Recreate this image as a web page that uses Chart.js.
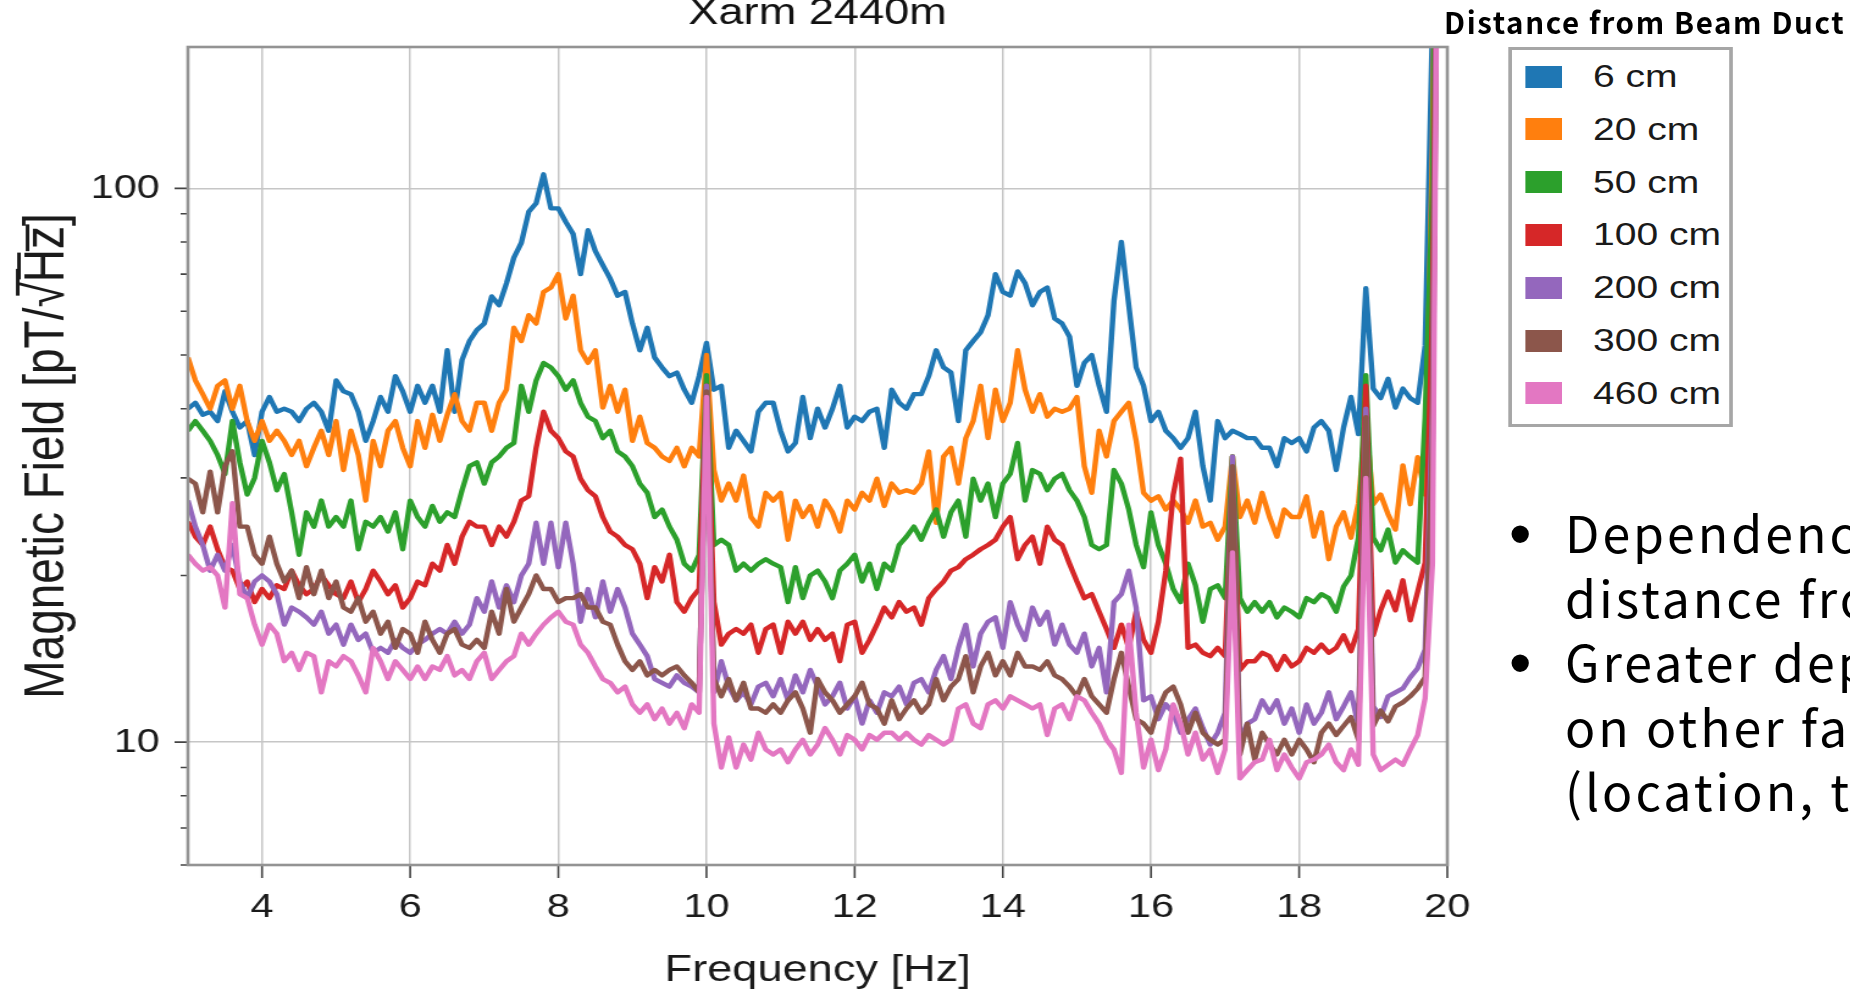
<!DOCTYPE html>
<html>
<head>
<meta charset="utf-8">
<title>Xarm 2440m</title>
<script src="https://cdn.jsdelivr.net/npm/chart.js@4.4.1/dist/chart.umd.min.js"></script>
<style>
  html, body { margin: 0; padding: 0; background: #fff; }
  body { width: 1850px; height: 995px; overflow: hidden; position: relative; }
  /* the figure is stretched sideways like the pasted plot */
  #fig { position: absolute; left: 0; top: 0; width: 1516px; height: 995px;
         transform: scaleX(1.22032); transform-origin: 0 0; }
  #fig canvas { position: absolute; left: 0; top: 0; }
  #legend { position: absolute; left: 1235.7px; top: 47px; width: 184.4px; height: 380px;
            box-sizing: border-box; border: 3px solid #a6a6a6; background: #fff; }
  .item { position: absolute; left: 11.8px; height: 22px; display: flex; align-items: center;
          font: 32px "Liberation Sans", Arial, sans-serif; color: #1a1a1a; white-space: nowrap; }
  .swatch { width: 29.5px; height: 22px; margin-right: 25.4px; flex: none; }
  #legendTitle { position: absolute; left: 1444px; top: 7px; font: 700 29.5px "Noto Sans CJK JP", sans-serif;
                 letter-spacing: 1.6px; line-height: 29px; color: #000; white-space: nowrap; }
  #notes { position: absolute; left: 1565px; top: 499px; font: 50px "Noto Sans CJK JP", sans-serif;
           letter-spacing: 3px; line-height: 64.5px; color: #000; white-space: nowrap; }
  #notes div { position: relative; }
  #notes .dot { position: absolute; left: -56px; top: 3px; font-family: "Liberation Sans", Arial, sans-serif; font-size: 64px; }
</style>
</head>
<body>
<div id="fig">
  <canvas id="psd" width="1516" height="995"></canvas>
  <div id="legend"></div>
</div>
<div id="legendTitle">Distance from Beam Duct</div>
<div id="notes">
  <div><span class="dot">•</span>Dependence on the</div>
  <div>distance from the duct</div>
  <div><span class="dot">•</span>Greater dependence</div>
  <div>on other factors</div>
  <div>(location, time)</div>
</div>
<script>
const chartTitle = 'Xarm 2440m';

// frequency bins [Hz]
const freqHz = [
  3.0, 3.1, 3.2, 3.3, 3.4, 3.5, 3.6, 3.7, 3.8, 3.9,
  4.0, 4.1, 4.2, 4.3, 4.4, 4.5, 4.6, 4.7, 4.8, 4.9,
  5.0, 5.1, 5.2, 5.3, 5.4, 5.5, 5.6, 5.7, 5.8, 5.9,
  6.0, 6.1, 6.2, 6.3, 6.4, 6.5, 6.6, 6.7, 6.8, 6.9,
  7.0, 7.1, 7.2, 7.3, 7.4, 7.5, 7.6, 7.7, 7.8, 7.9,
  8.0, 8.1, 8.2, 8.3, 8.4, 8.5, 8.6, 8.7, 8.8, 8.9,
  9.0, 9.1, 9.2, 9.3, 9.4, 9.5, 9.6, 9.7, 9.8, 9.9,
  10.0, 10.1, 10.2, 10.3, 10.4, 10.5, 10.6, 10.7, 10.8, 10.9,
  11.0, 11.1, 11.2, 11.3, 11.4, 11.5, 11.6, 11.7, 11.8, 11.9,
  12.0, 12.1, 12.2, 12.3, 12.4, 12.5, 12.6, 12.7, 12.8, 12.9,
  13.0, 13.1, 13.2, 13.3, 13.4, 13.5, 13.6, 13.7, 13.8, 13.9,
  14.0, 14.1, 14.2, 14.3, 14.4, 14.5, 14.6, 14.7, 14.8, 14.9,
  15.0, 15.1, 15.2, 15.3, 15.4, 15.5, 15.6, 15.7, 15.8, 15.9,
  16.0, 16.1, 16.2, 16.3, 16.4, 16.5, 16.6, 16.7, 16.8, 16.9,
  17.0, 17.1, 17.2, 17.3, 17.4, 17.5, 17.6, 17.7, 17.8, 17.9,
  18.0, 18.1, 18.2, 18.3, 18.4, 18.5, 18.6, 18.7, 18.8, 18.9,
  19.0, 19.1, 19.2, 19.3, 19.4, 19.5, 19.6, 19.7, 19.8, 19.9,
  20.0
];

// magnetic field ASD [pT/rtHz] per distance from the beam duct
const field6cm = [
  40, 41, 39, 39.5, 38, 43, 39.5, 37, 38, 33,
  39.5, 42, 39.5, 40, 39.5, 38, 40, 41, 39.5, 36.5,
  45, 43, 42.5, 39.5, 35, 38, 42, 39.5, 45.8, 43,
  39.5, 44, 41, 44, 39.5, 51, 39.5, 49, 53, 55.5,
  57, 63.8, 61.5, 67.4, 75, 79.7, 90.7, 94, 106, 92,
  92, 87, 82.7, 70, 84, 77, 72.7, 68.7, 64, 65,
  57, 51, 56, 49.5, 47.5, 45.8, 46.5, 43.3, 41, 45.8,
  52.6, 43.3, 44, 34, 36.5, 35, 33.5, 39.5, 41, 41,
  36.5, 33.5, 34.7, 42, 35.4, 40, 37, 40, 44, 37,
  38.7, 38, 39.5, 40, 34, 43.3, 41, 40, 42.5, 42.5,
  45.8, 51, 47.5, 46.5, 38, 51, 53, 55, 59, 70,
  65, 64, 70.8, 67.4, 61.5, 65, 66.2, 58.2, 57, 54,
  44, 48.4, 50, 44, 39.5, 62.6, 80, 61.5, 47.5, 44,
  38, 39.5, 36.5, 35.4, 34, 35.4, 39.5, 31.5, 27.3, 38,
  35.4, 36.5, 36, 35.4, 35.4, 34, 34, 31.5, 35.4, 34.7,
  35.4, 33.5, 37, 38, 36.5, 31, 37, 42, 36, 66,
  43.5, 41.8, 45.3, 40.2, 43.5, 41.8, 41, 52, 200, 2000,
  3000
];
const field20cm = [
  49.5, 45, 42.5, 40, 44, 45, 40, 44, 38, 35,
  38, 35, 36.5, 35, 33, 35, 31.5, 34, 36.5, 33,
  38, 31, 36.5, 33, 27.3, 35, 31.5, 36.5, 38, 34,
  31.5, 38, 34, 39, 35, 39, 42.5, 38, 36.5, 41,
  41, 36.5, 41, 43.3, 56, 53, 59, 57, 65, 66.2,
  70, 58.2, 64, 51, 48.4, 51, 40.2, 44, 39.5, 43.3,
  35, 38.7, 34.7, 34, 32.8, 32.2, 34, 31.5, 34, 32.8,
  50, 31, 27.3, 29.3, 27.3, 30.3, 25.5, 24.5, 28.2, 27.3,
  28.2, 23.2, 27.3, 25.5, 26.7, 24.5, 27.3, 26, 24, 27.3,
  26.3, 28.2, 27.3, 29.9, 26.7, 29.3, 28.2, 28.5, 28.2, 29.3,
  33.5, 24.9, 32.8, 34, 29.3, 35.4, 38, 44, 35.4, 43.3,
  38, 41, 51, 43.3, 39.5, 42.5, 38.7, 40, 39.5, 40,
  42, 31.5, 28.2, 36.5, 32.8, 38, 39.5, 41, 35, 28.2,
  27.3, 27.8, 26.3, 27.3, 26.3, 24.9, 27.3, 24.5, 24.9, 23.2,
  24.5, 32.8, 25.5, 27.3, 24.9, 28.2, 25.5, 23.5, 26.3, 25.5,
  25.5, 27.8, 23.5, 26, 21.4, 24.5, 26, 23.4, 27, 38.6,
  26.9, 28, 25.8, 24.2, 31.6, 26.9, 32.7, 28, 120, 1500,
  3000
];
const field50cm = [
  36.5, 38, 36.5, 35, 33, 30.5, 38, 32, 28, 30,
  35, 32, 28.5, 30.5, 26, 21.8, 26, 24.5, 27.3, 24.5,
  25.5, 24.5, 27.3, 22.3, 25, 24.5, 25.5, 24, 26, 22.3,
  27.3, 25.5, 24.5, 26.7, 25, 26, 25.5, 28.5, 31.5, 32,
  29.3, 32, 32.8, 34, 34.7, 44, 39.5, 45, 48.4, 47.5,
  45.8, 43.3, 45, 41, 38.7, 38, 35.4, 36.5, 33.5, 32.8,
  31.5, 29.3, 28.2, 25.5, 26.3, 24.5, 23.2, 21, 20.4, 21.8,
  46, 22.7, 23.2, 22.7, 20.4, 21, 20.4, 21, 21.4, 21,
  20.7, 17.9, 20.7, 18.2, 20, 20.4, 19.5, 18.2, 20.4, 21,
  21.8, 19.5, 21, 18.9, 21, 20.4, 22.7, 23.5, 24.5, 23.2,
  24.9, 26.3, 23.5, 26, 27.3, 23.5, 29.9, 27.3, 29.3, 25.5,
  29.3, 30.5, 34.7, 27.3, 31, 30.5, 28.5, 29.9, 30.5, 28.5,
  27.3, 25.5, 22.7, 22.3, 22.7, 31, 29.3, 26.3, 22.7, 20.7,
  26, 22.7, 21, 18.9, 17.9, 21, 19.2, 16.5, 18.9, 19.2,
  18.2, 32.8, 18.2, 17.2, 17.9, 17.2, 17.9, 16.8, 17.5, 17.2,
  16.8, 18.2, 17.9, 18.5, 18.2, 17.2, 19.1, 20, 23.4, 46,
  23.4, 22.2, 24.2, 21.1, 22.2, 21.6, 21.1, 38.6, 100, 1200,
  3000
];
const field100cm = [
  25, 23.5, 22.7, 24.5, 22.3, 20.7, 20.4, 18.9, 19.5, 17.9,
  18.9, 18.2, 19.2, 18.9, 20.4, 19.2, 18.5, 18.9, 20, 19.2,
  18.5, 18.2, 19.5, 17.9, 18.9, 20.4, 19.5, 18.5, 19.2, 17.5,
  18.2, 19.5, 19.2, 21, 20.4, 22.7, 21, 23.5, 25, 24.5,
  24.5, 22.7, 24.5, 23.5, 25, 27.3, 27.8, 34, 39.5, 36.5,
  35.4, 33.5, 32.8, 29.9, 28.5, 27.8, 25.5, 24, 23.5, 22.7,
  22.3, 21, 18.2, 20.7, 19.5, 21.8, 17.9, 17.2, 18.2, 18.9,
  44, 17.9, 15, 15.7, 16, 15.7, 16.3, 14.5, 16, 16.3,
  14.5, 16.5, 15.7, 16.5, 15.3, 16, 15.3, 15.7, 14, 16.3,
  16.5, 14.5, 15.3, 16.3, 17.5, 16.8, 17.9, 17.2, 17.5, 16.3,
  18.2, 18.9, 19.5, 20.4, 20.7, 21.4, 21.8, 22.3, 22.7, 23.2,
  24.5, 25.5, 21.4, 22.7, 23.5, 21, 24.5, 23.2, 22.7, 21,
  19.5, 18.2, 18.5, 17.2, 16, 14.8, 16.3, 14.8, 17.2, 15.3,
  14.5, 16.5, 20.4, 28, 32.5, 14.8, 15, 14.5, 14.3, 14.8,
  14.3, 31, 13.5, 14, 14, 14.5, 14.3, 13.5, 14.3, 13.7,
  14, 14.8, 14.5, 15, 14.5, 14.8, 15.6, 14.6, 16, 44,
  15.6, 17.3, 18.7, 17.3, 19.6, 16.6, 18.7, 21.1, 60, 1000,
  3000
];
const field200cm = [
  27.3, 24.5, 22.7, 20.4, 21.8, 20.4, 22.7, 19.5, 18.2, 19.5,
  20, 19.5, 18.5, 16.3, 17.5, 17.2, 16.8, 16.3, 17.2, 15.7,
  16.3, 15, 16.3, 15.3, 15.7, 14.5, 14.8, 14.5, 15.3, 14.8,
  14.5, 15, 15.3, 15.7, 16, 15.7, 16.5, 15.7, 16.3, 18.2,
  17.2, 19.5, 17.5, 19.2, 17.9, 20, 21, 24.9, 21, 24.9,
  20.7, 24.9, 21, 16.5, 18.9, 16.8, 19.5, 17.2, 18.9, 17.5,
  15.7, 15, 14.3, 13, 12.8, 12.6, 13.2, 12.8, 12.6, 12.3,
  44, 12.3, 14, 12.6, 11.9, 12.3, 11.7, 12.6, 12.8, 12.1,
  13, 11.9, 13.2, 12.3, 13.5, 12.6, 11.7, 12.1, 12.8, 11.5,
  12.1, 10.8, 11.9, 11.3, 12.3, 12.1, 12.6, 11.7, 12.8, 13,
  12.3, 13.5, 14.3, 13, 14.8, 16.3, 13.7, 15.7, 16.5, 16.8,
  14.8, 17.9, 16.3, 15.3, 17.5, 16.3, 17.2, 15, 16.3, 15,
  14.5, 15.7, 13.7, 14.8, 12.3, 17.9, 18.5, 20.4, 17.5, 11.9,
  12.1, 11, 11.7, 11.3, 10.4, 11, 11.5, 10.6, 9.9, 10.4,
  11.3, 32.8, 10.1, 10.8, 11, 11.9, 11.3, 11.9, 10.8, 11.5,
  10.4, 11.7, 10.8, 11.3, 12.3, 11, 11.6, 12.3, 10.7, 40,
  11.6, 11.1, 12.1, 12.3, 12.5, 13.1, 13.6, 14.7, 40, 1000,
  3000
];
const field300cm = [
  29.9, 29.3, 26, 30.8, 26, 31.5, 33.5, 24.5, 24.5, 21.8,
  21, 23.5, 21, 19.5, 20.4, 18.2, 20.7, 18.5, 20.4, 18.2,
  19.5, 17.5, 17.2, 18.2, 16.5, 17.2, 15.7, 16.5, 14.8, 16,
  15.7, 14.5, 16.5, 15.3, 14.5, 15.7, 16, 15, 14.8, 15.3,
  14.8, 17.2, 15.7, 18.9, 16.5, 17.5, 18.5, 20, 18.9, 18.9,
  17.9, 18.2, 18.2, 18.5, 17.5, 17.5, 16.5, 16.3, 15, 14,
  13.5, 14, 13.2, 13.5, 13.2, 13.5, 13.7, 13.2, 12.8, 12.3,
  43, 13, 12.1, 13, 11.9, 12.8, 11.5, 11.5, 11.3, 11.7,
  11.3, 11.9, 12.3, 11.5, 10.4, 13, 12.3, 11.9, 11.3, 11.7,
  12.1, 12.8, 11.7, 11.5, 10.8, 11.9, 11, 11.5, 11.9, 11.3,
  11.7, 13, 11.9, 12.6, 13, 14.3, 12.3, 13.7, 14.5, 13.2,
  14, 13.2, 14.5, 13.7, 13.7, 13.5, 14, 13.2, 13, 12.6,
  12.1, 13, 12.1, 11.7, 11.3, 13, 14.5, 12.6, 11, 10.8,
  10.4, 11.5, 12.3, 12.6, 11.7, 10.4, 11.3, 10.4, 10.1, 9.9,
  10.1, 31.5, 9.5, 10.8, 9.3, 10.4, 9.9, 9.5, 10.1, 9.5,
  10.1, 9.7, 9.2, 10.4, 10.8, 10.3, 10.7, 11.1, 10.1, 38.6,
  10.7, 11.4, 10.9, 11.6, 11.8, 12.1, 12.5, 13.1, 35, 1000,
  3000
];
const field460cm = [
  21.8, 21, 20.4, 20.7, 20, 17.5, 27, 18.5, 18.2, 16.3,
  15, 16.3, 15.7, 14, 14.5, 13.5, 14.5, 14.3, 12.3, 14,
  13.7, 14.3, 14, 13.2, 12.3, 14.8, 14, 13, 14, 13.5,
  13, 13.7, 13, 13.7, 13.5, 14.3, 13.2, 13.5, 13, 14,
  14.5, 13, 13.5, 14, 14.3, 15.7, 15, 15.7, 16.3, 16.8,
  17.2, 16.5, 16.3, 15, 14.5, 13.7, 13, 12.8, 12.3, 12.6,
  11.7, 11.3, 11.7, 11, 11.5, 10.8, 11.3, 10.6, 11.7, 11.3,
  42, 10.8, 9, 10.2, 9, 9.9, 9.3, 10.4, 9.7, 9.5,
  9.7, 9.2, 9.7, 10.1, 9.5, 9.9, 10.6, 10.1, 9.5, 10.3,
  10.1, 9.7, 10.3, 10.1, 10.4, 10.4, 10.1, 10.4, 10.1, 9.9,
  10.3, 10.1, 9.9, 10.1, 11.5, 11.7, 10.8, 10.6, 11.7, 11.9,
  11.5, 12.1, 11.9, 11.7, 11.5, 11.7, 10.3, 11.5, 11.7, 11,
  12.1, 11.9, 11.3, 10.8, 10.1, 9.7, 8.8, 16.3, 11.3, 9,
  10.1, 8.9, 9.7, 11.7, 10.8, 9.5, 10.4, 9.3, 9.7, 8.8,
  9.7, 22, 8.6, 8.9, 9.2, 9.3, 10.1, 8.9, 9.5, 9,
  8.6, 9.2, 9.3, 9.5, 9.9, 9.2, 8.9, 9.7, 9.1, 30,
  9.5, 8.9, 9.1, 9.3, 9.1, 9.7, 10.3, 12, 21, 1500,
  3000
];

const seriesLabels = ['6 cm', '20 cm', '50 cm', '100 cm', '200 cm', '300 cm', '460 cm'];
const seriesColors = ['#1f77b4', '#ff7f0e', '#2ca02c', '#d62728', '#9467bd', '#8c564b', '#e377c2'];
const seriesValues = [field6cm, field20cm, field50cm, field100cm, field200cm, field300cm, field460cm];

const xTicks = [4, 6, 8, 10, 12, 14, 16, 18, 20];
const yTicks = [6, 7, 8, 9, 10, 20, 30, 40, 50, 60, 70, 80, 90, 100];
const yLabelled = [10, 100];

const textFont = '"Liberation Sans", Arial, Helvetica, sans-serif';
const gridColor = '#c6c6c6';

// outward tick marks (long on decades), the axes box and the title
const frameTicks = {
  id: 'frameTicks',
  afterDatasetsDraw(chart) {
    const { ctx, chartArea: a, scales: { x, y } } = chart;
    ctx.save();
    ctx.strokeStyle = '#444';
    ctx.lineWidth = 1.6;
    ctx.beginPath();
    xTicks.forEach(v => {
      const px = x.getPixelForValue(v);
      ctx.moveTo(px, a.bottom);
      ctx.lineTo(px, a.bottom + 13);
    });
    yTicks.forEach(v => {
      const py = y.getPixelForValue(v);
      const len = yLabelled.includes(v) ? 11 : 6;
      ctx.moveTo(a.left, py);
      ctx.lineTo(a.left - len, py);
    });
    ctx.stroke();

    ctx.strokeStyle = '#939393';
    ctx.lineWidth = 2.6;
    ctx.strokeRect(a.left, a.top, a.right - a.left, a.bottom - a.top);

    ctx.fillStyle = '#111';
    ctx.font = '37px ' + textFont;
    ctx.textAlign = 'center';
    ctx.textBaseline = 'alphabetic';
    ctx.fillText(chartTitle, (a.left + a.right) / 2, 24);
    ctx.restore();
  }
};

const datasets = seriesValues.map((vals, i) => ({
  label: seriesLabels[i],
  data: vals.map((v, j) => ({ x: freqHz[j], y: v })),
  borderColor: seriesColors[i],
  backgroundColor: seriesColors[i],
  borderWidth: 4.4,
  borderJoinStyle: 'round',
  pointRadius: 0,
  tension: 0,
  clip: 0,
  order: seriesValues.length - 1 - i
}));

new Chart(document.getElementById('psd'), {
  type: 'line',
  data: { datasets },
  options: {
    responsive: false,
    animation: false,
    devicePixelRatio: 1,
    events: [],
    layout: { padding: { left: 0, top: 47, right: 330, bottom: 0 } },
    plugins: {
      legend: { display: false },
      tooltip: { enabled: false },
      title: { display: false }
    },
    scales: {
      x: {
        type: 'linear',
        min: 3,
        max: 20,
        afterBuildTicks: (scale) => { scale.ticks = xTicks.map(v => ({ value: v })); },
        afterFit: (scale) => { scale.height = 130; },
        grid: { color: gridColor, lineWidth: 1.5, drawTicks: false },
        border: { display: false },
        ticks: { font: { family: textFont, size: 34 }, color: '#1a1a1a', padding: 22, maxRotation: 0, autoSkip: false },
        title: { display: true, text: 'Frequency [Hz]', color: '#1a1a1a',
                 font: { family: textFont, size: 37 }, padding: { top: 0, bottom: 2 } }
      },
      y: {
        type: 'logarithmic',
        min: 6,
        max: 180,
        afterBuildTicks: (scale) => { scale.ticks = yTicks.map(v => ({ value: v })); },
        afterFit: (scale) => { scale.width = 154; },
        grid: {
          color: (c) => (c.tick && yLabelled.includes(c.tick.value)) ? gridColor : 'rgba(0,0,0,0)',
          lineWidth: 1.5,
          drawTicks: false
        },
        border: { display: false },
        ticks: {
          font: { family: textFont, size: 34 }, color: '#1a1a1a', padding: 23, autoSkip: false,
          callback: (v) => yLabelled.includes(v) ? String(v) : ''
        },
        title: { display: true, text: 'Magnetic Field [pT/\u221A\u0305H\u0305z\u0305]', color: '#1a1a1a',
                 font: { family: textFont, size: 46 }, padding: { top: 12, bottom: 0 } }
      }
    }
  },
  plugins: [frameTicks]
});

// legend box built from the same labels and colours
const legend = document.getElementById('legend');
seriesLabels.forEach((label, i) => {
  const item = document.createElement('div');
  item.className = 'item';
  item.style.top = (15.5 + i * 52.8) + 'px';
  const sw = document.createElement('span');
  sw.className = 'swatch';
  sw.style.background = seriesColors[i];
  item.appendChild(sw);
  item.appendChild(document.createTextNode(label));
  legend.appendChild(item);
});
</script>
</body>
</html>
